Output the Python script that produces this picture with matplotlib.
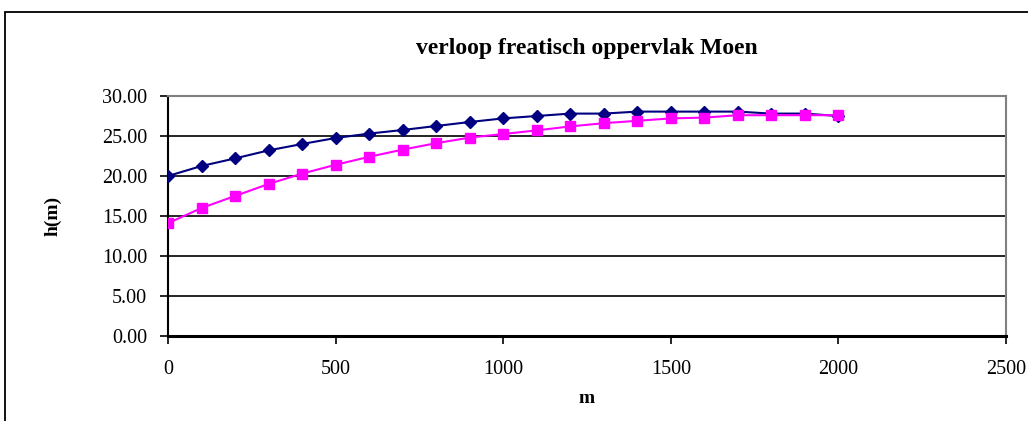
import matplotlib.pyplot as plt
from matplotlib.patches import Rectangle

plt.rcParams['font.family'] = ['Liberation Serif', 'DejaVu Serif']

# afstand (m)
x = [0, 100, 200, 300, 400, 500, 600, 700, 800, 900, 1000,
     1100, 1200, 1300, 1400, 1500, 1600, 1700, 1800, 1900, 2000]
# stijghoogte serie 1 (blauw)
h1 = [20.0, 21.25, 22.2, 23.2, 24.0, 24.75, 25.3, 25.75, 26.25, 26.75, 27.2,
      27.5, 27.8, 27.8, 28.05, 28.05, 28.05, 28.05, 27.8, 27.8, 27.5]
# stijghoogte serie 2 (roze)
h2 = [14.1, 16.0, 17.5, 19.0, 20.3, 21.4, 22.4, 23.3, 24.1, 24.8, 25.25,
      25.7, 26.2, 26.6, 26.9, 27.2, 27.3, 27.6, 27.6, 27.6, 27.6]

xticks = [0, 500, 1000, 1500, 2000, 2500]
yticks = [0, 5, 10, 15, 20, 25, 30]

W, H = 1028, 421
fig = plt.figure(figsize=(W / 100, H / 100), dpi=100)
ax = fig.add_axes([168 / W, 1 - 336 / H, (1006 - 168) / W, (336 - 96) / H])

# outer chart frame
fig.patches.append(Rectangle((5 / W, -0.1), 1.2, 1 - 12 / H + 0.1,
                             transform=fig.transFigure, fill=False,
                             edgecolor='black', linewidth=1.3))

ax.plot(x, h1, color='#000080', marker='D', markersize=6, linewidth=1.5, zorder=3)
ax.plot(x, h2, color='#FF00FF', marker='s', markersize=7, linewidth=1.5, zorder=3)

ax.set_xlim(0, 2500)
ax.set_ylim(0, 30)
ax.set_xticks(xticks)
ax.set_yticks(yticks)
ax.set_yticklabels([f'{v:.2f}' for v in yticks])
ax.tick_params(axis='both', labelsize=14.5, direction='out', length=6, width=1.2, colors='black')
ax.tick_params(axis='x', pad=11)
ax.tick_params(axis='y', pad=9)

for v in yticks[1:-1]:
    ax.axhline(v, color='black', linewidth=1.2, zorder=1)

ax.spines['top'].set_color('#808080')
ax.spines['right'].set_color('#808080')
ax.spines['top'].set_linewidth(1.5)
ax.spines['right'].set_linewidth(1.5)
ax.spines['left'].set_linewidth(1.5)
ax.spines['bottom'].set_linewidth(2.2)

ax.set_title('verloop freatisch oppervlak Moen', fontsize=17, fontweight='bold', pad=30)
ax.set_xlabel('m', fontsize=14, fontweight='bold', labelpad=8)
ax.set_ylabel('h(m)', fontsize=14, fontweight='bold', labelpad=29)

fig.savefig('out.png', dpi=100)
